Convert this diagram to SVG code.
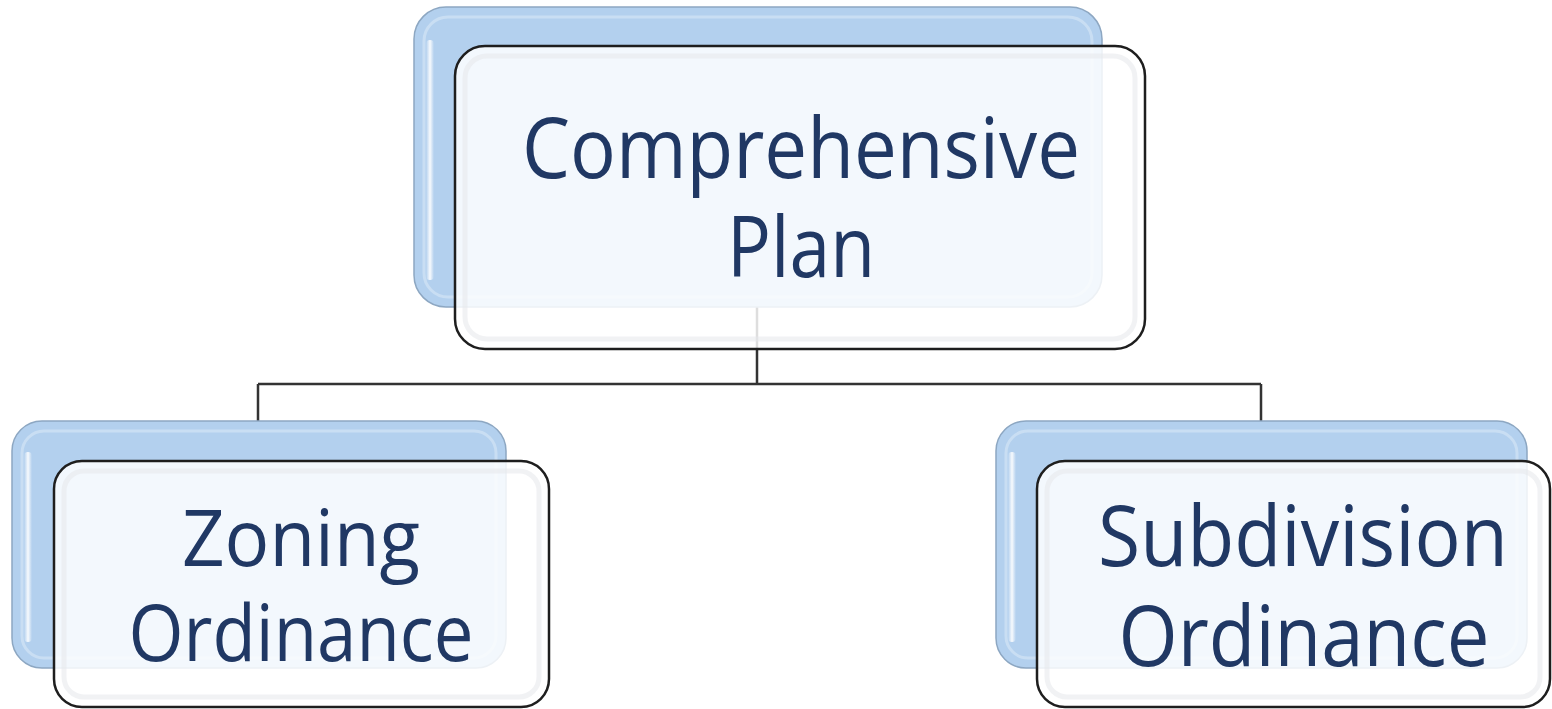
<svg xmlns="http://www.w3.org/2000/svg" width="1552" height="709" viewBox="0 0 1552 709">
<defs>
<linearGradient id="hl" x1="0" y1="0" x2="1" y2="0">
<stop offset="0" stop-color="#ffffff" stop-opacity="0"/>
<stop offset="0.5" stop-color="#ffffff" stop-opacity="0.9"/>
<stop offset="1" stop-color="#ffffff" stop-opacity="0"/>
</linearGradient>
<style>
.back{fill:#B3D0EE;stroke:#8DA7C2;stroke-width:1.5}
.backin{fill:none;stroke:#C9DEF3;stroke-width:3}
.front{fill:#FFFFFF;fill-opacity:0.84;stroke:#1E1E1E;stroke-width:2.5}
.frontin{fill:none;stroke:#E6E8EB;stroke-width:5;opacity:0.55}
.t{font-family:"Open Sans","Noto Sans",sans-serif;fill:#203864;text-anchor:middle}
.conn{fill:none;stroke:#333333;stroke-width:2.5}
</style>
</defs>
<rect width="1552" height="709" fill="#ffffff"/>
<g id="connectors">
<path class="conn" d="M757 307 V384 M258 384 H1261 M258 384 V421 M1261 384 V421"/>
</g>
<g id="node-comprehensive">
<rect class="back" x="414" y="7" width="688" height="300" rx="32"/>
<rect class="backin" x="424" y="17" width="668" height="280" rx="24"/>
<rect x="426" y="40" width="8" height="240" rx="4" fill="url(#hl)"/>
<rect class="front" x="455" y="46" width="690" height="303" rx="30"/>
<rect class="frontin" x="465" y="56" width="670" height="283" rx="22"/>
<text class="t" x="801" y="178" font-size="84" textLength="558" lengthAdjust="spacingAndGlyphs">Comprehensive</text>
<text class="t" x="801" y="277" font-size="84" textLength="148" lengthAdjust="spacingAndGlyphs">Plan</text>
</g>
<g id="node-zoning">
<rect class="back" x="12" y="421" width="494" height="247" rx="30"/>
<rect class="backin" x="22" y="431" width="474" height="227" rx="22"/>
<rect x="24" y="452" width="8" height="190" rx="4" fill="url(#hl)"/>
<rect class="front" x="54" y="461" width="495" height="246" rx="28"/>
<rect class="frontin" x="64" y="471" width="475" height="226" rx="20"/>
<text class="t" x="301" y="566" font-size="78" textLength="238" lengthAdjust="spacingAndGlyphs">Zoning</text>
<text class="t" x="301" y="661" font-size="78" textLength="345" lengthAdjust="spacingAndGlyphs">Ordinance</text>
</g>
<g id="node-subdivision">
<rect class="back" x="996" y="421" width="531" height="247" rx="30"/>
<rect class="backin" x="1006" y="431" width="511" height="227" rx="22"/>
<rect x="1008" y="452" width="8" height="190" rx="4" fill="url(#hl)"/>
<rect class="front" x="1037" y="461" width="513" height="246" rx="28"/>
<rect class="frontin" x="1047" y="471" width="493" height="226" rx="20"/>
<text class="t" x="1303" y="566" font-size="85" textLength="410" lengthAdjust="spacingAndGlyphs">Subdivision</text>
<text class="t" x="1304" y="666" font-size="85" textLength="371" lengthAdjust="spacingAndGlyphs">Ordinance</text>
</g>
</svg>
